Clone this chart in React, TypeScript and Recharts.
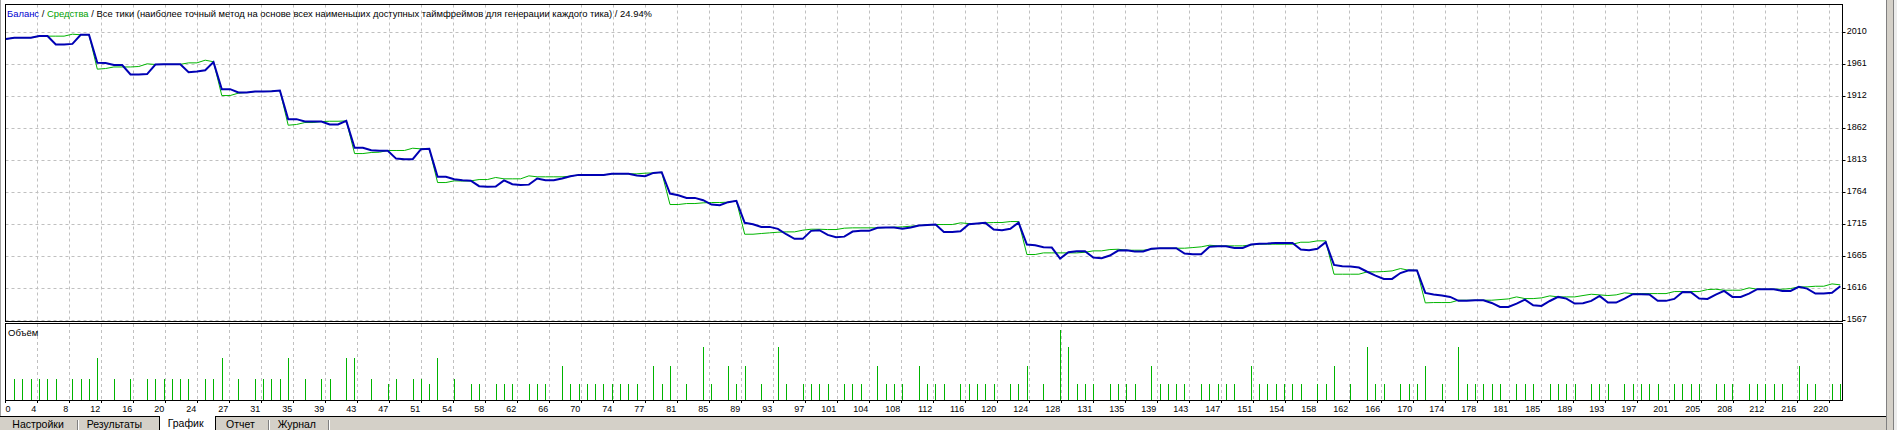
import React from 'react';
import { LineChart, Line, BarChart, Bar, XAxis, YAxis, CartesianGrid } from 'recharts';

// ---- data (trade index 0..221) ----
const balance = [
  2000, 2002, 2002, 2002, 2004.5, 2004.5, 1991.5, 1991.5, 1992.5, 2006.5,
  2006.5, 1963.3, 1963, 1960, 1960, 1945.4, 1945.4, 1946, 1960.8, 1961,
  1961, 1961, 1949, 1950, 1952, 1964.4, 1922.8, 1922.8, 1917.7, 1917.7,
  1919.2, 1919.2, 1919.7, 1920.8, 1876.7, 1876.7, 1873, 1873, 1873, 1868.5,
  1868.5, 1874, 1832.6, 1832.6, 1829, 1828, 1828, 1816, 1815.1, 1815.1,
  1830.5, 1831, 1788, 1788, 1784.4, 1782.8, 1782, 1773.6, 1772.6, 1773,
  1782.5, 1776.7, 1775.6, 1776, 1785.4, 1782.8, 1782.8, 1785.4, 1789, 1791,
  1791, 1791, 1791, 1792.6, 1792.6, 1792.6, 1790, 1789, 1794, 1795.1,
  1762.3, 1759.7, 1755.6, 1755.6, 1752, 1745.4, 1744.4, 1749, 1751, 1717.2,
  1715.1, 1711, 1711, 1708, 1699.7, 1692.6, 1692.6, 1704.9, 1705.9, 1698.7,
  1695.1, 1696, 1703.8, 1704.9, 1704.9, 1709.5, 1710, 1710, 1708, 1710,
  1713.1, 1714, 1714.6, 1703.3, 1703.3, 1704.4, 1715, 1716.1, 1717.2, 1707,
  1705.9, 1708, 1717.7, 1683.8, 1682.8, 1679.7, 1679.2, 1662.3, 1672, 1673.6,
  1673.6, 1663.8, 1662.8, 1666.9, 1674.6, 1675.1, 1673.1, 1673.1, 1677.2, 1678.2,
  1678.2, 1678.2, 1670, 1669, 1669, 1680.3, 1681.3, 1681.3, 1678.7, 1678.7,
  1683.8, 1684.9, 1685.4, 1686.4, 1686.4, 1686.4, 1676.1, 1675.1, 1677.2, 1687.4,
  1652.5, 1650.5, 1650, 1648.5, 1642, 1636, 1631, 1631, 1640, 1644.3,
  1644, 1609.5, 1607, 1605.4, 1603.3, 1597.2, 1597.2, 1598.2, 1598.2, 1594,
  1587.9, 1587.9, 1593, 1599.2, 1590.5, 1589.5, 1597, 1603.3, 1600.7, 1593,
  1593.6, 1597.2, 1604.9, 1594.6, 1594.6, 1600.7, 1607.4, 1607.4, 1607, 1597.2,
  1597.2, 1600.2, 1611, 1610.5, 1600.7, 1600.2, 1606.9, 1612.5, 1603.3, 1603.3,
  1608.4, 1615.1, 1615.1, 1615.1, 1612.5, 1612.5, 1618.7, 1616.1, 1608.4, 1608.4,
  1609.5, 1619.7,
];

const equity = [
  2000, 2002, 2002, 2002, 2004.5, 2004.4, 2004.4, 2004.4, 2007.4, 2006.5,
  2006.5, 1953.6, 1954.6, 1957, 1957, 1957, 1957.7, 1961.8, 1960.8, 1961,
  1961, 1961, 1963.3, 1963.3, 1967.4, 1965, 1913, 1913, 1916.7, 1917.7,
  1919.2, 1919.2, 1919.7, 1920.8, 1867.4, 1868.5, 1871.5, 1871.5, 1873, 1873.5,
  1873.5, 1874, 1823.8, 1823.8, 1825.4, 1825.9, 1828.5, 1828.5, 1828.5, 1832,
  1831, 1831, 1779.2, 1779.2, 1781.8, 1781.5, 1781.8, 1783.8, 1783.8, 1787,
  1784.9, 1784.9, 1784.9, 1789.5, 1788, 1788, 1788, 1788, 1789, 1791,
  1791, 1791, 1791, 1792.6, 1792.6, 1792.6, 1792.6, 1793.6, 1794, 1795.1,
  1745.4, 1745.4, 1746.9, 1746.9, 1748, 1748.5, 1748.5, 1749, 1751, 1699.7,
  1699.7, 1700.8, 1701.8, 1702.8, 1703.3, 1703.3, 1705.9, 1707.4, 1707.4, 1706.9,
  1706.9, 1709, 1709.5, 1709.5, 1709.5, 1709.5, 1710, 1710.5, 1711, 1712,
  1713.1, 1714, 1714.6, 1714.6, 1714.6, 1717.2, 1716.1, 1716.1, 1717.2, 1717.7,
  1717.7, 1719.2, 1719.2, 1668.5, 1668.5, 1671, 1671, 1671, 1671, 1671,
  1672, 1674.1, 1674.1, 1676.1, 1676.6, 1675.1, 1675.1, 1675.1, 1676.6, 1678.2,
  1678.2, 1678.2, 1678.2, 1679.2, 1680.3, 1682.8, 1681.8, 1681.8, 1681.8, 1681.8,
  1683.3, 1684.4, 1684.4, 1684.4, 1684.4, 1684.4, 1687.4, 1687.4, 1689.5, 1689.5,
  1638.2, 1638.2, 1638.2, 1638.2, 1641.8, 1641.8, 1642.3, 1643.3, 1646.9, 1644.3,
  1644.3, 1594.1, 1594.6, 1594.6, 1594.6, 1598.2, 1598.2, 1598.2, 1598.2, 1598.2,
  1599.2, 1600.2, 1603.3, 1600.7, 1600.7, 1601.8, 1604.9, 1603.3, 1603.3, 1603.3,
  1605.4, 1607.4, 1606.4, 1605.4, 1606.4, 1609.5, 1608.4, 1608.4, 1608.4, 1608.4,
  1608.4, 1611.5, 1611.5, 1611.5, 1611.5, 1614.6, 1615.1, 1613.6, 1613.6, 1613.6,
  1617.2, 1615.1, 1615.1, 1615.1, 1615.1, 1616.1, 1618.7, 1618.7, 1619.7, 1619.7,
  1623.3, 1621.8,
];

// volume (lots) for trades 1..221, 0 = no bar
const volumeLots = [
  0.13, 0.13, 0.13, 0.13, 0.13, 0.13, 0, 0.13, 0.13, 0.13,
  0.26, 0, 0.13, 0, 0.13, 0, 0.13, 0.13, 0.13, 0.13,
  0.13, 0.13, 0, 0.13, 0.13, 0.26, 0, 0.13, 0, 0.13,
  0.13, 0.13, 0.13, 0.26, 0, 0.13, 0, 0.13, 0.13, 0,
  0.26, 0.26, 0, 0.13, 0, 0.1, 0.13, 0, 0.13, 0.13,
  0.1, 0.26, 0, 0.13, 0, 0.1, 0.1, 0, 0.1, 0.1,
  0.1, 0, 0.1, 0.1, 0.1, 0, 0.21, 0.1, 0.1, 0.1,
  0.1, 0.1, 0.1, 0.1, 0.1, 0.1, 0, 0.21, 0.1, 0.21,
  0, 0.1, 0, 0.33, 0.1, 0, 0.21, 0.1, 0.21, 0,
  0.1, 0, 0.33, 0.1, 0, 0.1, 0.1, 0.1, 0.1, 0,
  0.1, 0.1, 0.1, 0, 0.21, 0.1, 0.1, 0.1, 0, 0.21,
  0.1, 0.1, 0.1, 0, 0.1, 0.1, 0.1, 0.1, 0.1, 0,
  0.1, 0.1, 0.21, 0, 0.1, 0, 0.44, 0.33, 0.1, 0.1,
  0.1, 0, 0.1, 0.1, 0.1, 0.1, 0, 0.21, 0.1, 0.1,
  0.1, 0.1, 0, 0.1, 0.1, 0.1, 0.1, 0.1, 0, 0.21,
  0.1, 0.1, 0.1, 0.1, 0.1, 0.1, 0, 0.1, 0.1, 0.21,
  0, 0.1, 0, 0.33, 0.1, 0.1, 0, 0.1, 0.1, 0.1,
  0.21, 0, 0.1, 0, 0.33, 0.1, 0.1, 0.1, 0.1, 0.1,
  0, 0.1, 0.1, 0.1, 0, 0.1, 0.1, 0.1, 0.1, 0,
  0.1, 0.1, 0.1, 0, 0.1, 0.1, 0.1, 0.1, 0.1, 0,
  0.1, 0.1, 0.1, 0.1, 0, 0.1, 0.1, 0.1, 0, 0.1,
  0.1, 0.1, 0.1, 0.1, 0, 0.21, 0.1, 0.1, 0, 0.1,
  0.1,
];

const xTickLabels = [
  '0', '4', '8', '12', '16', '20', '24', '27', '31', '35', '39', '43', '47', '51', '54', '58', '62', '66', '70', '74',
  '77', '81', '85', '89', '93', '97', '101', '104', '108', '112', '116', '120', '124', '128', '131', '135', '139', '143', '147', '151',
  '154', '158', '162', '166', '170', '174', '178', '181', '185', '189', '193', '197', '201', '205', '208', '212', '216', '220',
];

const yTickLabels = ['2010', '1961', '1912', '1862', '1813', '1764', '1715', '1665', '1616', '1567'];

const titleParts = {
  balance: 'Баланс',
  equity: 'Средства',
  rest: ' / Все тики (наиболее точный метод на основе всех наименьших доступных таймфреймов для генерации каждого тика) / 24.94%',
};
const tabLabels = ['Настройки', 'Результаты', 'График', 'Отчет', 'Журнал'];

// ---- layout ----
const W = 1897;
const FONT = '"Liberation Sans", Arial, sans-serif';
const BLUE = '#0000b4';
const GREEN = '#00b400';
const GRID = '#c0c0c0';
const PLOT_LEFT = 5.5;
const PLOT_RIGHT = 1842.5;
const TRADE0_X = 6;
const TRADE_PX = 8.3;
const GRID_PX = 32;
const xMin = (PLOT_LEFT - TRADE0_X) / TRADE_PX;
const xMax = (PLOT_RIGHT - TRADE0_X) / TRADE_PX;
const xTicks = xTickLabels.map((_, i) => xMin + (i * GRID_PX) / TRADE_PX);

const Y_FIRST = 2010;
const Y_LAST = 1567;
const yStep = (Y_FIRST - Y_LAST) / (yTickLabels.length - 1);
const yTicks = yTickLabels.map((_, i) => Y_FIRST - i * yStep);
const MAIN_TOP = 4.5;
const FIRST_TICK_Y = 32.5;
const LAST_TICK_Y = 320.5;
const MAIN_H = 332;
const yMax = Y_FIRST + ((FIRST_TICK_Y - MAIN_TOP) * (Y_FIRST - Y_LAST)) / (LAST_TICK_Y - FIRST_TICK_Y);

const mainData = balance.map((b, i) => ({ trade: i, balance: b, equity: equity[i] }));
const volData = volumeLots.map((v, i) => ({ trade: i + 1, lots: v })).filter((d) => d.lots > 0);

const findIdx = (arr: number[], v: number) => arr.findIndex((t) => Math.abs(t - v) < 1e-6);

const YTick = (props: any) => {
  const { x, y, payload } = props;
  const idx = findIdx(yTicks, payload.value);
  const yy = Math.round(y - 0.5) + 0.5;
  return (
    <g>
      <line x1={x} x2={x + 3} y1={yy} y2={yy} stroke="#000" strokeWidth={1} />
      <text x={x + 4.2} y={yy + 1.8} fontSize={9} fontFamily={FONT} fill="#000">
        {yTickLabels[idx]}
      </text>
    </g>
  );
};

const XTick = (props: any) => {
  const { x, y, payload } = props;
  const idx = findIdx(xTicks, payload.value);
  const first = idx === 0;
  const xx = Math.round(x - 0.5) + 0.5;
  return (
    <g>
      <line x1={xx} x2={xx} y1={y} y2={y + 3} stroke="#000" strokeWidth={1} />
      <text
        x={first ? xx : xx - 1.2}
        y={y + 11.7}
        textAnchor={first ? 'start' : 'end'}
        fontSize={9}
        fontFamily={FONT}
        fill="#000"
      >
        {xTickLabels[idx]}
      </text>
    </g>
  );
};

const VolBar = (props: any) => {
  const { x, y, width, height } = props;
  if (!height || height <= 0) return null;
  const cx = Math.round(x + width / 2 - 0.5);
  const top = Math.round(y);
  const bottom = Math.round(y + height);
  if (bottom <= top) return null;
  return <rect x={cx} y={top} width={1} height={bottom - top} fill={GREEN} />;
};

export default function App() {
  return (
    <div style={{ position: 'absolute', left: 0, top: 0, width: W, height: 430, background: '#fff', overflow: 'hidden' }}>
      <div style={{ position: 'absolute', left: 0, top: 0 }}>
        <LineChart
          width={W}
          height={MAIN_H}
          data={mainData}
          margin={{ top: MAIN_TOP, right: 4.5, bottom: MAIN_H - LAST_TICK_Y, left: PLOT_LEFT }}
        >
          <CartesianGrid stroke={GRID} strokeDasharray="3 3" />
          <XAxis
            type="number"
            dataKey="trade"
            domain={[xMin, xMax]}
            ticks={xTicks}
            interval={0}
            allowDataOverflow
            hide
          />
          <YAxis
            orientation="right"
            width={50}
            type="number"
            domain={[Y_LAST, yMax]}
            ticks={yTicks}
            interval={0}
            allowDataOverflow
            axisLine={false}
            tickLine={false}
            tickSize={0}
            tickMargin={0}
            tick={(p: any) => <YTick {...p} />}
          />
          <Line
            type="linear"
            dataKey="equity"
            stroke={GREEN}
            strokeWidth={1}
            dot={false}
            activeDot={false}
            isAnimationActive={false}
          />
          <Line
            type="linear"
            dataKey="balance"
            stroke={BLUE}
            strokeWidth={2}
            dot={false}
            activeDot={false}
            isAnimationActive={false}
          />
        </LineChart>
      </div>

      <div style={{ position: 'absolute', left: 0, top: 322 }}>
        <BarChart
          width={W}
          height={94}
          data={volData}
          margin={{ top: 2, right: W - PLOT_RIGHT, bottom: 0, left: PLOT_LEFT }}
        >
          <CartesianGrid stroke={GRID} strokeDasharray="3 3" horizontal={false} />
          <XAxis
            type="number"
            dataKey="trade"
            domain={[xMin, xMax]}
            ticks={xTicks}
            interval={0}
            allowDataOverflow
            height={16}
            axisLine={false}
            tickLine={false}
            tickSize={0}
            tickMargin={0}
            tick={(p: any) => <XTick {...p} />}
          />
          <YAxis hide type="number" domain={[0, 0.475]} allowDataOverflow />
          <Bar dataKey="lots" fill={GREEN} barSize={1} isAnimationActive={false} shape={(p: any) => <VolBar {...p} />} />
        </BarChart>
      </div>

      <svg width={W} height={430} style={{ position: 'absolute', left: 0, top: 0, pointerEvents: 'none' }}>
        {/* window left border */}
        <rect x={0} y={0} width={1} height={416} fill="#a0a0a0" />
        {/* frames */}
        <rect x={5.5} y={4.5} width={1837} height={317} fill="none" stroke="#000" strokeWidth={1} />
        <rect x={5.5} y={323.5} width={1837} height={77} fill="none" stroke="#000" strokeWidth={1} />
        {/* title */}
        <text
          x={7}
          y={17}
          fontSize={9.5}
          fontFamily={FONT}
          textLength={645}
          lengthAdjust="spacingAndGlyphs"
          style={{ whiteSpace: 'pre' }}
        >
          <tspan fill="#0000d0">{titleParts.balance}</tspan>
          <tspan fill="#000"> / </tspan>
          <tspan fill="#00a000">{titleParts.equity}</tspan>
          <tspan fill="#000">{titleParts.rest}</tspan>
        </text>
        <text x={8} y={335.5} fontSize={9.5} fontFamily={FONT} fill="#000">
          Объём
        </text>
        {/* tab bar */}
        <rect x={0} y={417} width={1886} height={13} fill="#d4d0c8" />
        <rect x={0} y={416} width={159} height={1} fill="#000" />
        <rect x={216} y={416} width={1670} height={1} fill="#000" />
        <rect x={160} y={416} width={55} height={14} fill="#fff" />
        <rect x={159} y={416} width={1} height={14} fill="#000" />
        <rect x={215} y={416} width={1} height={14} fill="#000" />
        {[77, 268, 328].map((sx) => (
          <g key={sx}>
            <rect x={sx} y={420} width={1} height={10} fill="#808080" />
            <rect x={sx + 1} y={420} width={1} height={10} fill="#fff" />
          </g>
        ))}
        <text x={12.3} y={427.5} fontSize={10.5} fontFamily={FONT} fill="#000">{tabLabels[0]}</text>
        <text x={86.7} y={427.5} fontSize={10.5} fontFamily={FONT} fill="#000">{tabLabels[1]}</text>
        <text x={167.7} y={426.5} fontSize={10.5} fontFamily={FONT} fill="#000">{tabLabels[2]}</text>
        <text x={226} y={427.5} fontSize={10.5} fontFamily={FONT} fill="#000">{tabLabels[3]}</text>
        <text x={277.7} y={427.5} fontSize={10.5} fontFamily={FONT} fill="#000">{tabLabels[4]}</text>
        {/* right window border */}
        <rect x={1886} y={0} width={1} height={430} fill="#808080" />
        <rect x={1887} y={0} width={6} height={430} fill="#d4d0c8" />
        <rect x={1893} y={0} width={1} height={430} fill="#808080" />
        <rect x={1894} y={0} width={3} height={430} fill="#ececec" />
      </svg>
    </div>
  );
}
